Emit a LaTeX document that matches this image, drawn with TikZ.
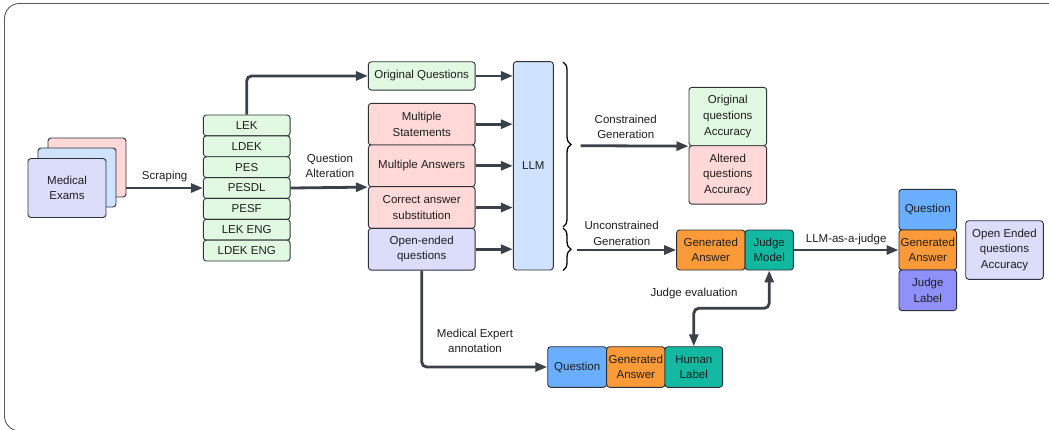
\documentclass[tikz,border=0pt]{standalone}
\usepackage{fontspec}
\setmainfont{Liberation Sans}
\usetikzlibrary{arrows.meta,decorations.pathreplacing,calc}
\definecolor{edge}{HTML}{2E3138}
\definecolor{arrc}{HTML}{3B414B}
\definecolor{txt}{HTML}{1E1E1E}
\definecolor{pinkf}{HTML}{FFD8D8}
\definecolor{bluef}{HTML}{CFE2FF}
\definecolor{lavf}{HTML}{DCDCFB}
\definecolor{greenf}{HTML}{E1F8E1}
\definecolor{qblue}{HTML}{6AAEFF}
\definecolor{orangef}{HTML}{FB9A38}
\definecolor{tealf}{HTML}{12B8A0}
\definecolor{purplef}{HTML}{9090FA}
\newcommand{\fs}{\fontsize{11.5}{15.6}\selectfont}
\tikzset{
  bx/.style={draw=edge, line width=0.9pt, rounded corners=3pt, align=center, inner sep=0pt, text=txt, font=\fs},
  arr/.style={draw=arrc, line width=2.8pt, -{Triangle[length=12pt,width=9pt]}},
  ln/.style={draw=arrc, line width=2.8pt},
  lbl/.style={align=center, text=txt, font=\fs, inner sep=0pt},
  brc/.style={draw=black, line width=1.3pt, decorate, decoration={brace, amplitude=8pt}},
}
\begin{document}
\begin{tikzpicture}[x=1pt,y=-1pt]
\useasboundingbox (0,0) rectangle (1049,429);
\draw[black!65, line width=0.9pt, rounded corners=15pt] (4.5,3.5) rectangle (1063,431);

% Medical exams stack
\node[bx, fill=pinkf, minimum width=78, minimum height=59] (mp) at (87,167.5) {};
\node[bx, fill=bluef, minimum width=78, minimum height=59] (mb) at (77,177.5) {};
\node[bx, fill=lavf, minimum width=78, minimum height=59] (me) at (67,188) {Medical\\Exams};

% list
\foreach \n/\t [count=\i from 0] in {lek/LEK, ldek/LDEK, pes/PES, pesdl/PESDL, pesf/PESF, lekeng/LEK ENG, ldekeng/LDEK ENG}{
  \node[bx, fill=greenf, minimum width=86.7, minimum height=20.86] (\n) at (246.7,{125.43+\i*20.86}) {\t};
}

% question boxes
\node[bx, fill=greenf, minimum width=106.7, minimum height=28.3] (oq) at (421.7,75.9) {Original Questions};
\node[bx, fill=pinkf, minimum width=106.7, minimum height=41.7] (ms) at (421.7,124.2) {Multiple\\Statements};
\node[bx, fill=pinkf, minimum width=106.7, minimum height=41.7] (ma) at (421.7,165.8) {Multiple Answers};
\node[bx, fill=pinkf, minimum width=106.7, minimum height=41.7] (cas) at (421.7,207.5) {Correct answer\\substitution};
\node[bx, fill=lavf, minimum width=106.7, minimum height=41.7] (oe) at (421.7,249.2) {Open-ended\\questions};

\node[bx, fill=bluef, minimum width=40, minimum height=208.3] (llm) at (533.3,165.8) {LLM};

% results
\node[bx, fill=greenf, minimum width=77.7, minimum height=58.4] (oqa) at (727.8,116.5) {Original\\questions\\Accuracy};
\node[bx, fill=pinkf, minimum width=77.7, minimum height=58.4] (aqa) at (727.8,174.9) {Altered\\questions\\Accuracy};

\node[bx, fill=orangef, minimum width=68.3, minimum height=40] (ga) at (710.8,250) {Generated\\Answer};
\node[bx, fill=tealf, minimum width=48.3, minimum height=40] (jm) at (769.2,250) {Judge\\Model};

\node[bx, fill=qblue, minimum width=57.7, minimum height=40.7] (rq) at (927.8,209.7) {Question};
\node[bx, fill=orangef, minimum width=57.7, minimum height=40] (rga) at (927.8,250) {Generated\\Answer};
\node[bx, fill=purplef, minimum width=57.7, minimum height=40.7] (rjl) at (927.8,290.3) {Judge\\Label};
\node[bx, fill=lavf, minimum width=77.6, minimum height=58.6] (oeqa) at (1004.5,250) {Open Ended\\questions\\Accuracy};

\node[bx, fill=qblue, minimum width=59, minimum height=40.6] (bq) at (577.2,367) {Question};
\node[bx, fill=orangef, minimum width=58.3, minimum height=40.6] (bga) at (635.8,367) {Generated\\Answer};
\node[bx, fill=tealf, minimum width=57.7, minimum height=40.6] (hl) at (693.8,367) {Human\\Label};

% connectors
\draw[arr] (mp.east |- pesdl.west) -- node[lbl, above=5pt] {Scraping} (pesdl.west);
\draw[arr, rounded corners=5pt] (lek.north) |- (oq.west);
\draw[arr] (pesdl.east) -- (ma.south west);
\node[lbl] (qalt) at (330,166) {Question\\Alteration};

\foreach \b in {oq,ms,ma,cas,oe}{
  \draw[arr] (\b.east) -- (\b.east -| llm.west);
}

\draw[brc] (563,62) -- (563,227);
\draw[brc] (563,228) -- (563,270.5);

\coordinate (cg) at (580.7,145.7);
\draw[arr] (cg) -- (oqa.south west);
\node[lbl] (cgl) at (625.7,127) {Constrained\\Generation};

\coordinate (ug) at (576.7,250);
\draw[arr] (ug) -- (ga.west);
\node[lbl] (ugl) at (621.7,233.5) {Unconstrained\\Generation};

\draw[arr] (jm.east) -- node[lbl, above=4pt] {LLM-as-a-judge} (rga.west);

\draw[arr, rounded corners=5pt] (oe.south) |- (bq.west);
\node[lbl] (mea) at (475,341) {Medical Expert\\annotation};

\coordinate (je) at (0,308.3);
\draw[arr, {Triangle[length=12pt,width=9pt]}-{Triangle[length=12pt,width=9pt]}, rounded corners=5pt] (hl.north) |- (je -| jm.south) -- (jm.south);
\node[lbl] (jel) at (694,294) {Judge evaluation};
\end{tikzpicture}
\end{document}
